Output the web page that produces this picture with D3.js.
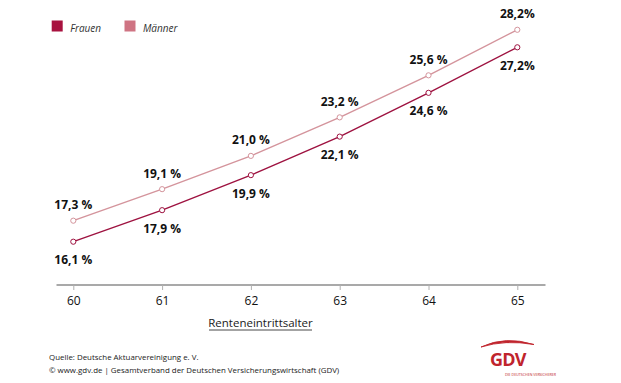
<!DOCTYPE html>
<html><head><meta charset="utf-8">
<script src="https://cdn.jsdelivr.net/npm/d3@7"></script>
<style>body{margin:0;background:#fff}svg{display:block}text{font-family:"Open Sans",sans-serif}</style>
</head><body><svg id="c" width="621" height="383"></svg>
<script>
const ages = [60, 61, 62, 63, 64, 65];
const frauen = [16.1, 17.9, 19.9, 22.1, 24.6, 27.2];
const maenner = [17.3, 19.1, 21.0, 23.2, 25.6, 28.2];
const frauenLabels = ["16,1 %", "17,9 %", "19,9 %", "22,1 %", "24,6 %", "27,2%"];
const maennerLabels = ["17,3 %", "19,1 %", "21,0 %", "23,2 %", "25,6 %", "28,2%"];
const seriesNames = ["Frauen", "Männer"];
const xTitle = "Renteneintrittsalter";
const sourceLines = ["Quelle: Deutsche Aktuarvereinigung e. V.", "© www.gdv.de | Gesamtverband der Deutschen Versicherungswirtschaft (GDV)"];

const svg = d3.select("#c");
const x = d3.scaleLinear().domain([60, 65]).range([73.3, 517.3]);
const y = d3.scaleLinear().domain([16.1, 27.2]).range([241.7, 47.3]);

const colF = "#9e1240", colM = "#d4949c";
const legF = "#a8123f", legM = "#cf7483";

// axis
const axisY = 285;
svg.append("line").attr("x1", 56.5).attr("x2", 545.5).attr("y1", axisY).attr("y2", axisY)
  .attr("stroke", "#8c8c8c").attr("stroke-width", 1.3);
const ax = d3.axisBottom(x).tickValues(ages).tickSize(5).tickPadding(6).tickFormat(d3.format("d"));
const g = svg.append("g").attr("transform", `translate(0,${axisY})`).call(ax);
g.select(".domain").remove();
g.selectAll(".tick line").attr("stroke", "#b0b0b0");
g.selectAll(".tick text").attr("font-size", 12).attr("fill", "#111").attr("font-family", "Open Sans, sans-serif");

svg.append("text").attr("x", 260.5).attr("y", 326.5).attr("text-anchor", "middle")
  .attr("font-size", 11.5).attr("fill", "#1a1a1a").text(xTitle);
svg.append("line").attr("x1", 209).attr("x2", 312).attr("y1", 330).attr("y2", 330)
  .attr("stroke", "#333").attr("stroke-width", 0.9);

const line = d3.line().x((d, i) => x(ages[i])).y(d => y(d));
function series(vals, labels, col, dy) {
  svg.append("path").datum(vals).attr("d", line).attr("fill", "none").attr("stroke", col).attr("stroke-width", 1.4);
  svg.selectAll(null).data(vals).enter().append("circle")
    .attr("cx", (d, i) => x(ages[i])).attr("cy", d => y(d)).attr("r", 2.6)
    .attr("fill", "#fff").attr("stroke", col).attr("stroke-width", 1);
  svg.selectAll(null).data(vals).enter().append("text")
    .attr("x", (d, i) => x(ages[i])).attr("y", d => y(d) + dy).attr("text-anchor", "middle")
    .attr("dominant-baseline", "central")
    .attr("font-size", 12).attr("font-weight", "bold").attr("fill", "#111")
    .text((d, i) => labels[i]);
}
series(maenner, maennerLabels, colM, -16);
series(frauen, frauenLabels, colF, 18);

// legend
const leg = [{n: seriesNames[0], c: legF, x: 51.7}, {n: seriesNames[1], c: legM, x: 124.5}];
leg.forEach(l => {
  svg.append("rect").attr("x", l.x).attr("y", 20.5).attr("width", 11).attr("height", 11).attr("fill", l.c);
  svg.append("text").attr("x", l.x + 18.5).attr("y", 28).attr("dominant-baseline", "central")
    .attr("font-size", 10).attr("font-style", "italic").attr("fill", "#333").text(l.n);
});

// source
sourceLines.forEach((t, i) => {
  svg.append("text").attr("x", 49).attr("y", 360 + i * 13).attr("font-size", 7.9).attr("fill", "#1a1a1a").text(t);
});

// GDV logo
const red = "#c0242d";
svg.append("path").attr("d", "M481,347 Q505,335.5 534,344.5 Q505,339.5 481,347 Z").attr("fill", red).attr("stroke", red).attr("stroke-width", 0.9);
svg.append("text").attr("x", 490).attr("y", 365.5).attr("font-size", 18).attr("font-weight", "bold").attr("fill", red)
  .attr("letter-spacing", -0.8).text("GDV");
svg.append("text").attr("x", 505).attr("y", 375.5).attr("font-size", 3.6).attr("fill", red).text("DIE DEUTSCHEN VERSICHERER");
</script></body></html>
